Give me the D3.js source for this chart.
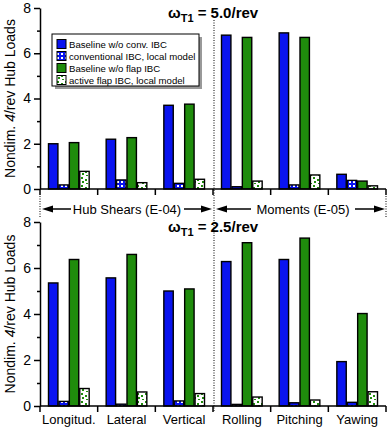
<!DOCTYPE html>
<html>
<head>
<meta charset="utf-8">
<script src="https://cdn.jsdelivr.net/npm/d3@7"></script>
<style>
body { margin: 0; background: #fff; }
svg { font-family: "Liberation Sans", Arial, sans-serif; }
</style>
</head>
<body>
<div class="chart"></div>
<script>
const width = 388
const height = 427

const categories = ["Longitud.", "Lateral", "Vertical", "Rolling", "Pitching", "Yawing"]
const seriesNames = ["Baseline w/o conv. IBC", "conventional IBC, local model", "Baseline w/o flap IBC", "active flap IBC, local model"]
const yTicks = [0, 2, 4, 6, 8]

// omega_T1 = 5.0/rev
const top_baseConv = [2.0, 2.2, 3.7, 6.8, 6.9, 0.65]
const top_conv = [0.18, 0.4, 0.25, 0.1, 0.18, 0.38]
const top_baseFlap = [2.05, 2.27, 3.75, 6.7, 6.7, 0.35]
const top_flap = [0.78, 0.28, 0.43, 0.35, 0.62, 0.14]

// omega_T1 = 2.5/rev
const bot_baseConv = [5.35, 5.57, 5.0, 6.28, 6.37, 1.93]
const bot_conv = [0.2, 0.08, 0.22, 0.07, 0.14, 0.16]
const bot_baseFlap = [6.37, 6.59, 5.09, 7.1, 7.3, 4.02]
const bot_flap = [0.76, 0.61, 0.54, 0.39, 0.26, 0.62]

const fills = ["#0a14f0", "url(#convPat)", "#1f8c0c", "url(#flapPat)"]

const svg = d3.select(".chart")
    .append("svg")
    .attr("width", width)
    .attr("height", height)

// patterns
const defs = svg.append("defs")
const p1 = defs.append("pattern")
    .attr("id", "convPat")
    .attr("patternUnits", "userSpaceOnUse")
    .attr("width", 4).attr("height", 4)
p1.append("rect").attr("width", 4).attr("height", 4).attr("fill", "#0a14f0")
p1.append("rect").attr("x", 1).attr("y", 1).attr("width", 2).attr("height", 2).attr("fill", "#fff")

const p2 = defs.append("pattern")
    .attr("id", "flapPat")
    .attr("patternUnits", "userSpaceOnUse")
    .attr("width", 8).attr("height", 8)
p2.append("rect").attr("width", 8).attr("height", 8).attr("fill", "#fff")
;[[1, 1], [5, 3], [2, 5], [6, 7]].forEach(p => {
    p2.append("rect").attr("x", p[0]).attr("y", p[1]).attr("width", 2).attr("height", 2).attr("fill", "#1f8c0c")
})

const xScale = d3.scaleBand()
    .domain(categories)
    .range([40, 386])

const sScale = d3.scaleBand()
    .domain(d3.range(4))
    .range([8, xScale.bandwidth() - 8])

function panel(y0, y1, data, title) {
    const yScale = d3.scaleLinear().domain([0, 8]).range([y0, y1])
    const g = svg.append("g")

    // bars
    data.forEach((vals, s) => {
        g.selectAll(null)
            .data(vals)
            .join("rect")
            .attr("x", (d, i) => xScale(categories[i]) + sScale(s) + 0.5)
            .attr("width", sScale.bandwidth() - 1)
            .attr("y", d => yScale(d))
            .attr("height", d => yScale(0) - yScale(d))
            .attr("fill", fills[s])
            .attr("stroke", "#000")
            .attr("stroke-width", 1.4)
    })

    // y axis
    const yAxis = d3.axisLeft(yScale)
        .tickValues(yTicks)
        .tickSize(6)
        .tickSizeOuter(0)
        .tickPadding(3)
    const ya = g.append("g")
        .attr("transform", "translate(40,0)")
        .call(yAxis)
    ya.selectAll("text").attr("font-size", 14).attr("fill", "#000").attr("font-family", "Liberation Sans, Arial")
    ya.selectAll("line, path").attr("stroke", "#000").attr("stroke-width", 1.5)
    const yMinor = d3.axisLeft(yScale).tickValues([1, 3, 5, 7]).tickSize(3).tickFormat("")
    g.append("g")
        .attr("transform", "translate(40,0)")
        .call(yMinor)
        .call(a => a.select(".domain").remove())
        .selectAll("line").attr("stroke", "#000").attr("stroke-width", 1.5)

    // x axis
    const xa = g.append("g")
        .attr("transform", "translate(0," + y0 + ")")
    xa.append("line")
        .attr("x1", 40).attr("x2", 386)
        .attr("stroke", "#000").attr("stroke-width", 1.5)
    xa.selectAll(".bt")
        .data(categories.concat(["end"]))
        .join("line")
        .attr("x1", (d, i) => i < categories.length ? xScale(d) : xScale.range()[1])
        .attr("x2", (d, i) => i < categories.length ? xScale(d) : xScale.range()[1])
        .attr("y1", 0).attr("y2", 6)
        .attr("stroke", "#000").attr("stroke-width", 1.5)

    // title
    const t = g.append("text")
        .attr("x", 168).attr("y", y1 + 10)
        .attr("font-weight", "bold")
        .attr("font-size", 15)
    t.append("tspan").text("ω")
    t.append("tspan").attr("font-size", 11).attr("dy", 4).text("T1")
    t.append("tspan").attr("dy", -4).text(" = " + title)

    // y label
    const lab = g.append("text")
        .attr("transform", "translate(15," + ((y0 + y1) / 2) + ") rotate(-90)")
        .attr("text-anchor", "middle")
        .attr("font-size", 14)
    lab.append("tspan").text("Nondim. ")
    lab.append("tspan").attr("font-style", "italic").text("4")
    lab.append("tspan").text("/rev Hub Loads")

    return yScale
}

panel(189, 8, [top_baseConv, top_conv, top_baseFlap, top_flap], "5.0/rev")
panel(406, 222, [bot_baseConv, bot_conv, bot_baseFlap, bot_flap], "2.5/rev")

// category labels
svg.selectAll(".cat")
    .data(categories)
    .join("text")
    .attr("x", d => xScale(d) + xScale.bandwidth() / 2)
    .attr("y", 424)
    .attr("text-anchor", "middle")
    .attr("font-size", 13)
    .text(d => d)

// dividers
svg.append("line")
    .attr("x1", 214).attr("x2", 214).attr("y1", 20).attr("y2", 412)
    .attr("stroke", "#000").attr("stroke-width", 1).attr("stroke-dasharray", "1,1.5")
;[40, 386].forEach(x => {
    svg.append("line")
        .attr("x1", x).attr("x2", x).attr("y1", 196).attr("y2", 218)
        .attr("stroke", "#000").attr("stroke-width", 1).attr("stroke-dasharray", "1,1.5")
})

// range arrows
function arrow(xTail, xHead, y) {
    const dir = xHead > xTail ? 1 : -1
    svg.append("line")
        .attr("x1", xTail).attr("x2", xHead - dir * 8).attr("y1", y).attr("y2", y)
        .attr("stroke", "#000").attr("stroke-width", 1.5)
    svg.append("path")
        .attr("d", "M" + xHead + "," + y + "L" + (xHead - dir * 11) + "," + (y - 3.5) + "L" + (xHead - dir * 11) + "," + (y + 3.5) + "Z")
        .attr("fill", "#000")
}
const ay = 209
arrow(71, 42, ay)
arrow(184, 212, ay)
arrow(251, 216, ay)
arrow(355, 385, ay)
svg.append("text").attr("x", 127).attr("y", ay + 5).attr("text-anchor", "middle").attr("font-size", 13).text("Hub Shears (E-04)")
svg.append("text").attr("x", 303).attr("y", ay + 5).attr("text-anchor", "middle").attr("font-size", 13).text("Moments (E-05)")

// legend
const lg = svg.append("g")
lg.append("rect").attr("x", 55).attr("y", 37).attr("width", 147).attr("height", 52).attr("fill", "#999")
lg.append("rect").attr("x", 52).attr("y", 34).attr("width", 147).attr("height", 52)
    .attr("fill", "#fff").attr("stroke", "#000").attr("stroke-width", 1)
const legRow = d3.scaleBand().domain(seriesNames).range([38, 86])
lg.selectAll(".sw")
    .data(seriesNames)
    .join("rect")
    .attr("x", 57)
    .attr("y", d => legRow(d) + legRow.bandwidth() / 2 - 4.5)
    .attr("width", 9).attr("height", 9)
    .attr("fill", (d, i) => fills[i])
    .attr("stroke", "#000").attr("stroke-width", 1)
lg.selectAll(".lt")
    .data(seriesNames)
    .join("text")
    .attr("x", 69)
    .attr("y", d => legRow(d) + legRow.bandwidth() / 2 + 4)
    .attr("font-size", 9.6)
    .text(d => d)
</script>
</body>
</html>
